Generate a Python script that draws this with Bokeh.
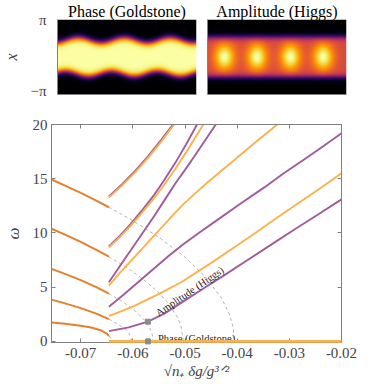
import numpy as np
from bokeh.plotting import figure
from bokeh.layouts import row, column
from bokeh.models import (Range1d, LinearAxis, FixedTicker, CustomJSTickFormatter,
                          Label, LinearColorMapper)
from bokeh.palettes import Inferno256
from bokeh.embed import file_html
from bokeh.resources import INLINE

FONT = "Liberation Serif"
GRAY = "#808080"
DARK_OR = "#E5802C"
LIGHT_OR = "#FDB14A"
PURPLE = "#A15B9C"
DASH = "#A8A8A8"

# ---------------- main panel data ----------------
x_ticks = [-0.07, -0.06, -0.05, -0.04, -0.03, -0.02]
w_ticks = [0, 5, 10, 15, 20]

# branches left of the transition (dark orange)
left_x = [-0.0756, -0.0730, -0.0700, -0.0670, -0.0646]
left_w1 = [14.93, 14.37, 13.69, 12.98, 12.37]
left_w2 = [10.39, 9.85, 9.17, 8.44, 7.81]
left_w3 = [6.69, 6.23, 5.65, 5.00, 4.41]
left_w4 = [3.85, 3.51, 3.07, 2.56, 2.05]
left5_x = [-0.0756, -0.0730, -0.0700, -0.0680, -0.0660, -0.0650, -0.0646]
left_w5 = [1.75, 1.62, 1.45, 1.28, 1.00, 0.72, 0.50]

# continuation of the left branches (grey dashed)
arc1_x = [-0.0646, -0.0600, -0.0550, -0.0500, -0.0460, -0.0430, -0.0415, -0.0408, -0.0405]
arc1_w = [12.37, 11.13, 9.60, 7.77, 5.91, 3.99, 2.52, 1.38, 0.0]
arc2_x = [-0.0646, -0.0610, -0.0580, -0.0550, -0.0530, -0.0515, -0.0508, -0.0503]
arc2_w = [7.81, 6.76, 5.73, 4.48, 3.40, 2.26, 1.46, 0.0]
arc3_x = [-0.0646, -0.0620, -0.0595, -0.0578, -0.0568, -0.0563, -0.0561]
arc3_w = [4.41, 3.68, 2.79, 1.98, 1.27, 0.68, 0.0]
arc4_x = [-0.0646, -0.0630, -0.0615, -0.0608, -0.0604, -0.0602]
arc4_w = [2.05, 1.64, 1.12, 0.76, 0.44, 0.0]
arc5_x = [-0.0646, -0.0641, -0.0638]
arc5_w = [0.50, 0.30, 0.0]

# branches right of the transition
gold0_x = [-0.0646, -0.0200]
gold0_w = [0.0, 0.0]
higgs1_x = [-0.0646, -0.0608, -0.0571, -0.0539, -0.0506, -0.0464, -0.0420, -0.0377,
            -0.0334, -0.0291, -0.0245, -0.0200]
higgs1_w = [0.95, 1.29, 1.82, 2.58, 3.60, 4.90, 6.25, 7.60, 8.95, 10.30, 11.70, 13.10]
gold1_x = [-0.0646, -0.0620, -0.0596, -0.0545, -0.0506, -0.0454, -0.0411, -0.0368,
           -0.0325, -0.0281, -0.0240, -0.0200]
gold1_w = [2.35, 2.82, 3.30, 4.50, 5.50, 7.10, 8.50, 9.90, 11.35, 12.80, 14.15, 15.50]
higgs2_x = [-0.0646, -0.0632, -0.0618, -0.0589, -0.0560, -0.0531, -0.0502, -0.0473,
            -0.0444, -0.0396, -0.0348, -0.0310, -0.0271, -0.0235, -0.0200]
higgs2_w = [3.20, 3.74, 4.30, 5.50, 6.70, 7.90, 9.00, 10.02, 11.00, 12.62, 14.20,
            15.52, 16.80, 18.00, 19.20]
gold2_x = [-0.0646, -0.0627, -0.0606, -0.0585, -0.0563, -0.0541, -0.0522, -0.0502,
           -0.0480, -0.0458, -0.0432, -0.0406, -0.0365, -0.0323]
gold2_w = [5.15, 6.20, 7.32, 8.40, 9.57, 10.70, 11.72, 12.70, 13.67, 14.60, 15.66,
           16.70, 18.36, 20.00]
higgs3_x = [-0.0646, -0.0627, -0.0604, -0.0582, -0.0560, -0.0539, -0.0518, -0.0500,
            -0.0483, -0.0462, -0.0441]
higgs3_w = [5.45, 6.80, 8.40, 9.95, 11.50, 13.05, 14.60, 15.82, 17.00, 18.50, 20.00]
higgs4_x = [-0.0646, -0.0625, -0.0604, -0.0583, -0.0561, -0.0540, -0.0519, -0.0498, -0.0477]
higgs4_w = [8.76, 9.73, 10.83, 12.05, 13.39, 14.86, 16.44, 18.16, 20.00]
gold3_x = [-0.0646, -0.0625, -0.0604, -0.0583, -0.0561, -0.0540, -0.0519, -0.0498,
           -0.0477, -0.0465]
gold3_w = [8.66, 9.62, 10.68, 11.84, 13.09, 14.44, 15.88, 17.43, 19.06, 20.00]
higgs5_x = [-0.0646, -0.0621, -0.0596, -0.0571, -0.0546, -0.0523]
higgs5_w = [13.37, 14.48, 15.70, 17.07, 18.57, 20.00]
gold4_x = [-0.0646, -0.0621, -0.0596, -0.0571, -0.0546, -0.0521]
gold4_w = [13.27, 14.36, 15.57, 16.92, 18.40, 20.00]

marker_x = [-0.0571, -0.0571]
marker_w = [1.82, 0.0]

# ---------------- density snapshots (top panels) ----------------
img_nx, img_ny = 139, 75
gold_xspan = [0.0, 3.0]
gold_band = [1.42, 0.22, 0.15]      # half width, edge ripple, edge softness (rad)
gold_ripple_phase = [0.44, 0.66]    # top / bottom edge ripple phase (periods)
higgs_xspan = [0.0, 4.0]
higgs_band = [1.68, 0.14]           # half width, edge softness (rad)
higgs_levels = [0.58, 0.42]         # band level, blob contrast
higgs_blob_x = [0.48, 1.42, 2.39, 3.34]
higgs_blob_size = [0.29, 1.15]


def soft(z):
    return 1.0 / (1.0 + np.exp(-z))


yy = np.linspace(-np.pi, np.pi, img_ny)
GX, GY = np.meshgrid(np.linspace(gold_xspan[0], gold_xspan[1], img_nx), yy)
w_top = gold_band[0] + gold_band[1] * np.cos(2 * np.pi * (GX - gold_ripple_phase[0]))
w_bot = gold_band[0] + gold_band[1] * np.cos(2 * np.pi * (GX - gold_ripple_phase[1]))
gold_img = soft((w_top - GY) / gold_band[2]) * soft((GY + w_bot) / gold_band[2])

HX, HY = np.meshgrid(np.linspace(higgs_xspan[0], higgs_xspan[1], img_nx), yy)
band = soft((higgs_band[0] - HY) / higgs_band[1]) * soft((HY + higgs_band[0]) / higgs_band[1])
blobs = np.zeros_like(HX)
for c in higgs_blob_x:
    blobs += np.exp(-((HX - c) / higgs_blob_size[0]) ** 2 - (HY / higgs_blob_size[1]) ** 2)
higgs_img = band * (higgs_levels[0] + higgs_levels[1] * np.minimum(blobs, 1.0))

cmap = LinearColorMapper(palette=Inferno256, low=0.0, high=1.0)


def image_panel(img, xspan, title, left, right, show_labels):
    p = figure(frame_width=139, frame_height=75,
               x_range=Range1d(xspan[0], xspan[1]), y_range=Range1d(-np.pi, np.pi),
               output_backend="svg", toolbar_location=None, title=title,
               min_border_left=left, min_border_right=right,
               min_border_top=19, min_border_bottom=4)
    p.title.align = "center"
    p.title.text_font = FONT
    p.title.text_font_style = "normal"
    p.title.text_font_size = "16px"
    p.title.standoff = 0
    p.title.text_color = "black"
    p.image(image=[img], x=xspan[0], y=-np.pi, dw=xspan[1] - xspan[0], dh=2 * np.pi,
            color_mapper=cmap)
    p.grid.visible = False
    p.outline_line_color = None
    p.background_fill_color = "white"
    p.border_fill_color = "white"
    xa = p.xaxis[0]
    xa.ticker = FixedTicker(ticks=[])
    xa.axis_line_color = GRAY
    xa.major_tick_line_color = None
    xa.minor_tick_line_color = None
    xa.major_label_standoff = 0
    ya = p.yaxis[0]
    ya.axis_line_color = GRAY
    ya.major_tick_line_color = None
    ya.minor_tick_line_color = None
    if show_labels:
        ya.ticker = FixedTicker(ticks=[-np.pi, np.pi])
        ya.formatter = CustomJSTickFormatter(code="return tick > 0 ? 'π' : '−π';")
        ya.major_label_text_font = FONT
        ya.major_label_text_font_size = "15px"
        ya.major_label_standoff = 5
        ya.axis_label = "x"
        ya.axis_label_text_font = FONT
        ya.axis_label_text_font_style = "italic"
        ya.axis_label_text_font_size = "16px"
        ya.axis_label_standoff = 7
    else:
        ya.ticker = FixedTicker(ticks=[])
        ya.major_label_standoff = 0
    return p


p1 = image_panel(gold_img, gold_xspan, "Phase (Goldstone)", 49, 5, True)
p2 = image_panel(higgs_img, higgs_xspan, "Amplitude (Higgs)", 6, 20, False)

# ---------------- main panel ----------------
p = figure(frame_width=290, frame_height=218,
           x_range=Range1d(-0.0756, -0.0200), y_range=Range1d(-0.1, 20),
           output_backend="svg", toolbar_location=None,
           min_border_left=48, min_border_right=20, min_border_top=26, min_border_bottom=42)
p.grid.visible = False
p.outline_line_color = GRAY
p.background_fill_color = "white"
p.border_fill_color = "white"


def style_axis(ax, labels=True):
    ax.axis_line_color = GRAY
    ax.major_tick_line_color = GRAY
    ax.major_tick_in = 4
    ax.major_tick_out = 0
    ax.minor_tick_line_color = None
    ax.major_label_text_font = FONT
    ax.major_label_text_font_size = "15px"
    if not labels:
        ax.formatter = CustomJSTickFormatter(code="return '';")
        ax.major_label_standoff = 0


p.xaxis.ticker = FixedTicker(ticks=x_ticks)
p.yaxis.ticker = FixedTicker(ticks=w_ticks)
style_axis(p.xaxis[0])
style_axis(p.yaxis[0])
p.xaxis.formatter = CustomJSTickFormatter(code="return tick.toFixed(2);")
p.xaxis.major_label_standoff = 5
p.yaxis.major_label_standoff = 4
p.xaxis.axis_label = "√n₊ δg/g³ᐟ²"
p.xaxis.axis_label_text_font = FONT
p.xaxis.axis_label_text_font_style = "italic"
p.xaxis.axis_label_text_font_size = "15px"
p.xaxis.axis_label_standoff = 2
p.yaxis.axis_label = "ω"
p.yaxis.axis_label_text_font = FONT
p.yaxis.axis_label_text_font_style = "italic"
p.yaxis.axis_label_text_font_size = "17px"
p.yaxis.axis_label_standoff = 7

top_ax = LinearAxis(ticker=FixedTicker(ticks=x_ticks))
style_axis(top_ax, labels=False)
p.add_layout(top_ax, "above")
right_ax = LinearAxis(ticker=FixedTicker(ticks=w_ticks))
style_axis(right_ax, labels=False)
p.add_layout(right_ax, "right")

# dashed continuations
for ax_, aw in [(arc1_x, arc1_w), (arc2_x, arc2_w), (arc3_x, arc3_w),
                (arc4_x, arc4_w), (arc5_x, arc5_w)]:
    p.line(ax_, aw, line_color=DASH, line_width=0.9, line_dash="3 3")

# left branches
for lx, lw in [(left_x, left_w1), (left_x, left_w2), (left_x, left_w3),
               (left_x, left_w4), (left5_x, left_w5)]:
    p.line(lx, lw, line_color=DARK_OR, line_width=2)

# right branches
LW = 1.9
p.line(higgs1_x, higgs1_w, line_color=PURPLE, line_width=LW)
p.line(gold1_x, gold1_w, line_color=LIGHT_OR, line_width=LW)
p.line(higgs2_x, higgs2_w, line_color=PURPLE, line_width=LW)
p.line(gold2_x, gold2_w, line_color=LIGHT_OR, line_width=LW)
p.line(higgs3_x, higgs3_w, line_color=PURPLE, line_width=LW)
p.line(higgs4_x, higgs4_w, line_color=PURPLE, line_width=LW)
p.line(gold3_x, gold3_w, line_color=LIGHT_OR, line_width=LW)
p.line(higgs5_x, higgs5_w, line_color=PURPLE, line_width=LW)
p.line(gold4_x, gold4_w, line_color=LIGHT_OR, line_width=LW)
g0 = p.line(gold0_x, gold0_w, line_color=LIGHT_OR, line_width=2.6)
g0.level = "overlay"
mk = p.scatter(marker_x, marker_w, marker="square", size=5, fill_color="#8C8C8C",
               line_color="#8C8C8C")
mk.level = "overlay"

p.add_layout(Label(x=-0.0554, y=2.55, text="Amplitude (Higgs)", angle=0.597,
                   angle_units="rad", text_font=FONT, text_font_size="10.5px",
                   text_baseline="alphabetic", text_align="left", text_color="#222222"))
p.add_layout(Label(x=-0.0552, y=0.30, text="Phase (Goldstone)",
                   text_font=FONT, text_font_size="10.5px", text_baseline="alphabetic",
                   text_align="left", text_color="#222222"))

layout = column(row(p1, p2, spacing=0), p, spacing=0)

open("out.html", "w").write(file_html(layout, INLINE))
